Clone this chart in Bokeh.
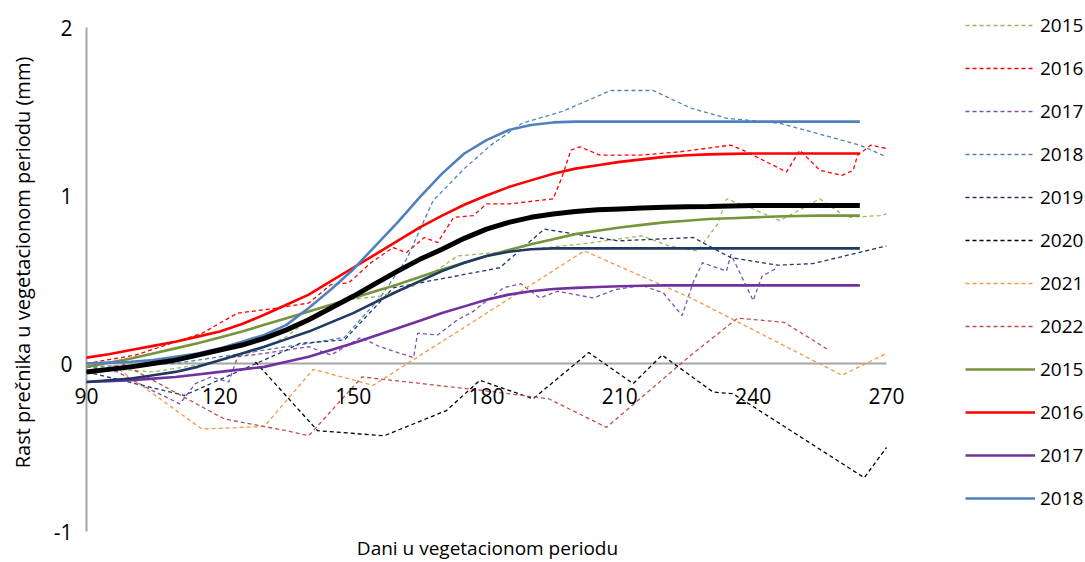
from bokeh.plotting import figure
from bokeh.models import FixedTicker, LinearAxis, Range1d, Legend, LegendItem, Label
from bokeh.embed import file_html
from bokeh.resources import INLINE
import math

FONT = "Open Sans"

# ---- measured daily growth series (dashed) ----
m2015_x = [90, 105, 117, 127, 135, 142, 149, 156, 163.5, 173.5, 186, 201, 215, 221, 227.5, 232, 234, 240, 246, 255, 261, 268.5, 270]
m2015_y = [-0.02, -0.05, 0.0, 0.06, 0.16, 0.30, 0.38, 0.40, 0.46, 0.64, 0.67, 0.71, 0.76, 0.70, 0.67, 0.83, 0.98, 0.92, 0.85, 0.98, 0.87, 0.88, 0.89]

m2016_x = [90, 101, 116, 124, 133, 140, 145, 149, 154, 159, 162, 166, 169, 172.6, 177, 180, 185, 195, 197, 199, 201, 205.5, 214.5, 223.5, 235, 238.5, 243, 247.5, 250.5, 255, 260, 262.5, 263.5, 266.5, 270]
m2016_y = [0.0, 0.05, 0.18, 0.30, 0.33, 0.36, 0.47, 0.48, 0.60, 0.69, 0.66, 0.75, 0.72, 0.87, 0.88, 0.95, 0.95, 0.98, 1.11, 1.27, 1.29, 1.24, 1.24, 1.26, 1.30, 1.26, 1.20, 1.14, 1.27, 1.15, 1.12, 1.15, 1.24, 1.30, 1.28]

m2017_x = [90, 97, 104, 111, 114.5, 118, 122, 124, 130, 135, 140, 145, 151.7, 156, 163.6, 164.5, 169, 173.5, 177, 183.8, 187.7, 192, 196, 204, 209, 215, 219.8, 224, 226.6, 228.6, 234, 235, 240, 242, 245.5]
m2017_y = [-0.02, -0.05, -0.15, -0.24, -0.12, -0.08, -0.11, 0.04, 0.06, 0.08, 0.10, 0.05, 0.155, 0.10, 0.035, 0.18, 0.17, 0.26, 0.31, 0.45, 0.475, 0.39, 0.43, 0.39, 0.44, 0.465, 0.42, 0.285, 0.49, 0.60, 0.55, 0.65, 0.375, 0.52, 0.57]

m2018_x = [90, 110, 125, 140, 148, 156, 162, 168, 175, 181, 188, 197, 208, 217.5, 226, 234, 246, 264, 270]
m2018_y = [-0.02, 0.0, 0.06, 0.12, 0.155, 0.39, 0.62, 0.97, 1.16, 1.30, 1.43, 1.50, 1.625, 1.625, 1.52, 1.46, 1.43, 1.30, 1.23]

m2019_x = [90, 112, 135, 138, 148, 159, 179, 183, 193, 209.5, 226.5, 235, 245.5, 253.5, 270]
m2019_y = [-0.05, -0.19, 0.08, 0.12, 0.14, 0.45, 0.55, 0.57, 0.80, 0.73, 0.75, 0.63, 0.585, 0.595, 0.70]

m2020_x = [128, 142, 157, 171, 178.5, 190.5, 203, 213, 219.5, 231, 235.5, 265, 270]
m2020_y = [0.01, -0.40, -0.43, -0.28, -0.10, -0.21, 0.065, -0.12, 0.05, -0.17, -0.18, -0.68, -0.50]

m2021_x = [96, 116, 130, 141, 154.5, 202, 226, 260, 270]
m2021_y = [-0.01, -0.39, -0.375, -0.035, -0.13, 0.67, 0.39, -0.07, 0.06]

m2022_x = [98, 121, 135, 140, 152, 179, 194, 207, 226, 236.5, 247, 257]
m2022_y = [0.0, -0.33, -0.40, -0.43, -0.08, -0.16, -0.21, -0.38, 0.05, 0.27, 0.245, 0.08]

# ---- fitted growth curves (solid) ----
fit_days = [90, 95, 100, 105, 110, 115, 120, 125, 130, 135, 140, 145, 150, 155, 160, 165, 170, 175,
            180, 185, 190, 195, 200, 205, 210, 215, 220, 225, 230, 235, 240, 245, 250, 255, 260, 264]
fit2015 = [-0.02, 0.005, 0.03, 0.06, 0.09, 0.12, 0.155, 0.19, 0.23, 0.27, 0.31, 0.35, 0.39, 0.43, 0.47, 0.515, 0.56, 0.60,
           0.64, 0.675, 0.71, 0.74, 0.77, 0.79, 0.81, 0.825, 0.84, 0.85, 0.86, 0.865, 0.87, 0.875, 0.878, 0.88, 0.88, 0.88]
fit2016 = [0.035, 0.055, 0.08, 0.105, 0.13, 0.16, 0.19, 0.235, 0.29, 0.35, 0.41, 0.49, 0.57, 0.65, 0.73, 0.81, 0.88, 0.945,
           1.00, 1.05, 1.09, 1.13, 1.16, 1.18, 1.20, 1.215, 1.23, 1.24, 1.245, 1.248, 1.25, 1.25, 1.25, 1.25, 1.25, 1.25]
fit2017 = [-0.11, -0.105, -0.10, -0.09, -0.08, -0.065, -0.05, -0.035, -0.02, 0.01, 0.04, 0.08, 0.12, 0.165, 0.21, 0.255, 0.30, 0.34,
           0.38, 0.41, 0.43, 0.443, 0.45, 0.455, 0.46, 0.463, 0.465, 0.465, 0.465, 0.465, 0.465, 0.465, 0.465, 0.465, 0.465, 0.465]
fit2018 = [0.0, 0.005, 0.01, 0.02, 0.04, 0.06, 0.09, 0.13, 0.17, 0.23, 0.33, 0.44, 0.56, 0.70, 0.84, 0.99, 1.13, 1.25,
           1.33, 1.39, 1.42, 1.435, 1.44, 1.44, 1.44, 1.44, 1.44, 1.44, 1.44, 1.44, 1.44, 1.44, 1.44, 1.44, 1.44, 1.44]
fit2019 = [-0.11, -0.10, -0.09, -0.07, -0.05, -0.02, 0.02, 0.06, 0.10, 0.145, 0.19, 0.245, 0.30, 0.365, 0.43, 0.49, 0.55, 0.60,
           0.64, 0.665, 0.68, 0.685, 0.685, 0.685, 0.685, 0.685, 0.685, 0.685, 0.685, 0.685, 0.685, 0.685, 0.685, 0.685, 0.685, 0.685]
fit_avg = [-0.05, -0.035, -0.02, 0.0, 0.02, 0.05, 0.08, 0.11, 0.15, 0.20, 0.26, 0.33, 0.40, 0.475, 0.55, 0.62, 0.68, 0.745,
           0.80, 0.84, 0.87, 0.89, 0.905, 0.915, 0.92, 0.925, 0.93, 0.933, 0.935, 0.938, 0.94, 0.94, 0.94, 0.94, 0.94, 0.94]

x_ticks = [90, 120, 150, 180, 210, 240, 270]
y_ticks = [-1, 0, 1, 2]

W, H = 1085, 562
# pixel layout of the reference: day 90 at x=86, day 270 at x=886; y=2 at 27, y=-1 at 531
PX_PER_DAY = 800 / 180
PX_PER_UNIT = 504 / 3
x0 = 90 - 86 / PX_PER_DAY
x1 = x0 + W / PX_PER_DAY
y1 = 2 + 27 / PX_PER_UNIT
y0 = y1 - H / PX_PER_UNIT

p = figure(width=W, height=H, x_range=Range1d(x0, x1), y_range=Range1d(y0, y1),
           x_axis_type=None, y_axis_type=None, output_backend="svg", toolbar_location=None,
           min_border=0)
p.outline_line_color = None
p.xgrid.visible = False
p.ygrid.visible = False

GRAY = "#a6a6a6"
# axis lines
p.segment(x0=[x_ticks[0]], y0=[0], x1=[x_ticks[-1]], y1=[0], line_color=GRAY, line_width=2)
p.segment(x0=[x_ticks[0]], y0=[y_ticks[0]], x1=[x_ticks[0]], y1=[y_ticks[-1]], line_color=GRAY, line_width=2)

yax = LinearAxis(ticker=FixedTicker(ticks=y_ticks), fixed_location=90)
yax.axis_line_color = None
yax.major_tick_line_color = None
yax.minor_tick_line_color = None
yax.major_tick_out = 0
yax.major_label_standoff = 14
yax.major_label_text_font = FONT
yax.major_label_text_font_size = "21px"
yax.major_label_text_color = "#000000"
yax.major_label_overrides = {-1: "-1"}
p.add_layout(yax, "left")

xax = LinearAxis(ticker=FixedTicker(ticks=x_ticks), fixed_location=0)
xax.axis_line_color = None
xax.major_tick_line_color = None
xax.minor_tick_line_color = None
xax.major_tick_out = 0
xax.major_label_standoff = 24
xax.major_label_text_font = FONT
xax.major_label_text_font_size = "21px"
xax.major_label_text_color = "#000000"
p.add_layout(xax, "below")

DASH = "4 3"
dashed = [
    ("2015", m2015_x, m2015_y, "#9bbb59"),
    ("2016", m2016_x, m2016_y, "#ff0000"),
    ("2017", m2017_x, m2017_y, "#8050b0"),
    ("2018", m2018_x, m2018_y, "#4f81bd"),
    ("2019", m2019_x, m2019_y, "#1f3864"),
    ("2020", m2020_x, m2020_y, "#000000"),
    ("2021", m2021_x, m2021_y, "#f79646"),
    ("2022", m2022_x, m2022_y, "#c0504d"),
]
items = []
for name, xs, ys, col in dashed:
    r = p.line(xs, ys, line_color=col, line_width=1.3, line_dash=DASH)
    items.append(LegendItem(label=name, renderers=[r]))

solid = [
    ("2015", fit2015, "#77933c"),
    ("2016", fit2016, "#ff0000"),
    ("2017", fit2017, "#7030a0"),
    ("2018", fit2018, "#4f81bd"),
]
for name, ys, col in solid:
    r = p.line(fit_days, ys, line_color=col, line_width=2.6)
    items.append(LegendItem(label=name, renderers=[r]))

p.line(fit_days, fit2019, line_color="#1f3864", line_width=2.6)
p.line(fit_days, fit_avg, line_color="#000000", line_width=5)

legend = Legend(items=items, location=(965, 49), orientation="vertical",
                glyph_width=70, glyph_height=30, spacing=13, label_standoff=5,
                label_text_font=FONT, label_text_font_size="19px", label_text_color="#000000",
                padding=0, margin=0, border_line_color=None, background_fill_alpha=0)
p.add_layout(legend, "center")

p.add_layout(Label(x=487, y=H - 547, x_units="screen", y_units="screen", text="Dani u vegetacionom periodu",
                   text_font=FONT, text_font_size="19px", text_align="center", text_baseline="middle",
                   text_color="#000000"))
p.add_layout(Label(x=22, y=H - 262, x_units="screen", y_units="screen", angle=math.pi / 2,
                   text="Rast prečnika u vegetacionom periodu (mm)",
                   text_font=FONT, text_font_size="20px", text_align="center", text_baseline="middle",
                   text_color="#000000"))

open("out.html", "w").write(file_html(p, INLINE))
